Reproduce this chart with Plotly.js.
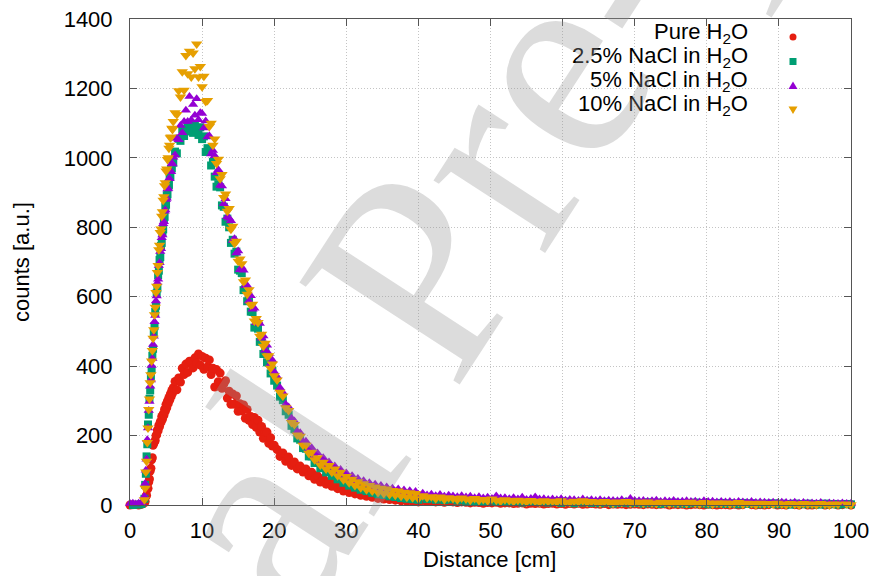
<!DOCTYPE html>
<html><head><meta charset="utf-8">
<script src="https://cdn.plot.ly/plotly-3.0.1.min.js"></script>
<style>html,body{margin:0;padding:0;background:#fff}#chart{width:873px;height:576px}</style>
</head><body><div id="chart"></div>
<script>
// Distance [cm]
const distance = [0,0.4,0.8,1.2,1.6,2.0,
2.1,2.2,2.3,2.4,2.5,2.6,2.7,2.8,2.9,3.0,3.1,3.2,3.3,3.4,3.5,3.6,3.7,3.8,3.9,4.0,
4.1,4.2,4.3,4.4,4.5,4.6,4.7,4.8,4.9,5.0,5.1,5.2,5.3,5.4,5.5,5.6,5.7,5.8,5.9,6.0,
6.25,6.5,6.75,7,7.25,7.5,7.75,8,8.25,8.5,8.75,9,9.25,9.5,9.75,10,
10.25,10.5,10.75,11,11.25,11.5,11.75,12,12.25,12.5,12.75,13,13.25,13.5,13.75,14,14.25,14.5,14.75,15,
15.25,15.5,15.75,16,16.25,16.5,16.75,17,17.25,17.5,17.75,18,18.25,18.5,18.75,19,19.25,19.5,19.75,20,
20.4,20.8,21.2,21.6,22,22.4,22.8,23.2,23.6,24,24.4,24.8,25.2,25.6,26,26.4,26.8,27.2,27.6,28,
28.4,28.8,29.2,29.6,30,30.4,30.8,31.2,31.6,32,32.4,32.8,33.2,33.6,34,34.4,34.8,35.2,35.6,36,
36.4,36.8,37.2,37.6,38,38.4,38.8,39.2,39.6,40,
40.6,41.2,41.8,42.4,43.0,43.6,44.2,44.8,45.4,46.0,46.6,47.2,47.8,48.4,49.0,49.6,50.2,50.8,51.4,52.0,
52.6,53.2,53.8,54.4,55.0,55.6,56.2,56.8,57.4,58.0,58.6,59.2,59.8,60.4,61.0,61.6,62.2,62.8,63.4,64.0,
64.6,65.2,65.8,66.4,67.0,67.6,68.2,68.8,69.4,70.0,70.6,71.2,71.8,72.4,73.0,73.6,74.2,74.8,75.4,76.0,
76.6,77.2,77.8,78.4,79.0,79.6,80.2,80.8,81.4,82.0,82.6,83.2,83.8,84.4,85.0,85.6,86.2,86.8,87.4,88.0,
88.6,89.2,89.8,90.4,91.0,91.6,92.2,92.8,93.4,94.0,94.6,95.2,95.8,96.4,97.0,97.6,98.2,98.8,99.4,100.0];

// counts: Pure H2O
const pureH2O = [0,1,-1,0,2,6,
10,24,28,45,48,66,75,98,106,130,136,172,178,182,186,200,202,216,214,230,
226,240,238,255,247,262,258,276,270,290,280,300,292,310,302,320,312,330,322,338,
356,332,366,354,394,376,406,382,414,411,395,424,408,435,403,428,
391,423,398,418,376,394,340,390,355,380,336,348,358,308,328,290,320,290,314,270,
292,271,288,250,275,244,255,232,252,224,244,210,226,192,210,210,178,194,170,172,
160,140,150,126,138,114,124,104,112,95,104,84,94,74,84,66,76,60,68,54,
62,47,56,40,50,36,45,32,41,28,37,25,33,22,30,19,28,17,26,16,
23,14,22,12,20,11,19,10,18,9,
13,10,12,9,11,8,10,9,7,9,8,6,8,7,5,7,6,8,5,6,
6,4,5,6,3,5,4,5,3,4,5,3,4,2,4,3,5,2,3,4,
3,2,4,1,3,2,3,1,2,3,2,1,3,2,1,2,3,0,2,1,
2,0,1,2,1,0,2,1,0,1,1,0,2,0,1,-1,1,0,1,0,
1,-1,0,1,0,-1,1,0,-1,0,0,1,-1,0,1,-1,0,1,-1,0];

// counts: 2.5% NaCl in H2O
const nacl2_5 = [-2,0,-1,1,3,18,
58,90,140,175,232,260,306,330,372,390,430,450,496,515,556,574,610,624,662,675,
706,714,746,755,786,794,824,830,860,865,892,895,920,922,946,948,968,970,988,986,
1018,1013,1055,1049,1083,1063,1084,1099,1076,1096,1072,1098,1087,1066,1088,1054,
1062,1017,1028,1019,978,988,946,917,924,915,863,859,816,825,800,755,764,724,730,678,
675,668,619,623,587,597,557,556,511,516,508,470,472,435,448,411,411,379,387,358,
344,312,302,270,260,228,218,192,188,164,162,140,140,121,122,106,108,94,97,84,
87,74,77,64,68,56,61,50,55,44,50,40,45,35,41,31,37,29,34,25,
32,23,29,20,27,18,25,17,24,15,
23,17,20,15,19,14,16,18,13,15,12,16,11,14,10,13,15,9,12,11,
8,12,10,7,11,9,12,8,10,7,9,11,6,10,8,5,9,7,10,6,
8,5,9,7,4,8,6,9,5,7,6,4,8,5,7,3,6,5,7,4,
6,3,5,7,4,6,2,5,4,6,3,5,4,2,6,3,5,4,2,4,
3,5,2,4,3,1,4,3,2,4,2,3,1,4,2,3,1,2,3,2];

// counts: 5% NaCl in H2O
const nacl5 = [4,5,3,5,6,25,
62,100,132,188,222,272,298,342,360,402,422,462,486,528,546,588,602,640,650,690,
698,730,738,770,778,810,816,846,850,880,884,910,912,940,940,962,960,984,982,1002,
1008,1056,1052,1093,1072,1105,1137,1105,1177,1109,1154,1123,1170,1110,1130,1128,
1086,1106,1060,1064,1011,1021,1006,957,966,921,919,868,882,830,826,819,762,767,726,732,
678,685,676,632,632,588,603,564,567,525,531,523,480,487,446,460,436,406,417,384,
370,338,324,290,282,250,242,212,208,182,184,160,165,142,150,128,136,116,124,108,
112,96,102,86,92,78,84,70,76,64,70,58,64,52,60,48,56,44,52,40,
48,38,46,35,43,33,41,31,39,30,
34,29,31,27,30,25,28,26,24,27,23,25,21,24,20,22,19,26,20,21,
18,21,17,22,16,19,23,17,18,16,17,15,18,14,16,15,13,17,14,15,
13,15,12,14,13,12,15,11,19,13,12,13,11,12,14,10,12,11,13,10,
11,12,10,11,9,12,10,11,9,10,9,10,8,10,9,8,10,7,9,8,
7,8,6,8,7,6,8,5,7,6,6,5,7,4,6,5,4,6,4,5];

// counts: 10% NaCl in H2O
const nacl10 = [-6,-5,-7,-4,-3,15,
48,95,126,180,222,275,305,352,375,415,445,480,505,548,570,612,630,670,690,735,
748,785,795,832,845,878,888,920,928,962,968,995,1000,1028,1036,1058,1060,1085,1082,1105,
1130,1125,1193,1175,1248,1195,1295,1242,1307,1233,1302,1257,1328,1233,1263,1205,
1235,1162,1165,1090,1100,1036,1054,984,996,940,952,886,896,846,854,794,803,754,760,702,
709,695,643,648,607,620,576,578,530,537,526,486,492,457,466,429,430,394,406,372,
360,325,314,280,272,238,232,202,198,172,172,149,152,130,136,115,123,104,114,94,
104,84,94,73,82,64,74,56,67,50,61,44,56,40,52,36,48,33,46,30,
42,28,40,25,37,22,35,21,33,18,
27,21,24,18,23,16,21,19,15,20,17,14,19,13,16,12,17,14,11,15,
13,10,14,12,9,13,11,8,12,10,11,8,12,9,7,11,9,12,7,10,
9,6,10,8,5,9,7,10,6,8,8,5,9,6,4,8,7,3,7,6,
7,4,8,5,3,7,6,2,6,5,6,3,5,7,2,5,4,1,5,3,
4,2,5,3,1,4,3,0,4,2,3,1,4,2,0,3,2,-1,3,1];

const seriesNames = ['Pure H<sub>2</sub>O','2.5% NaCl in H<sub>2</sub>O','5% NaCl in H<sub>2</sub>O','10% NaCl in H<sub>2</sub>O'];
const seriesValues = [pureH2O, nacl2_5, nacl5, nacl10];
const colors = ['#e51e10','#009e73','#9400d3','#e69f00'];
const symbols = ['circle','square','triangle-up','triangle-down'];
const sizes = [9,8,9,10];
const xTicks = [0,10,20,30,40,50,60,70,80,90,100];
const yTicks = [0,200,400,600,800,1000,1200,1400];

const W=873,H=576,L=130,R=22,T=19,B=71;
const pw=W-L-R, ph=H-T-B;
const px = x => (x-L)/pw;
const py = y => (H-B-y)/ph;

const traces = seriesValues.map((v,i)=>({
  type:'scatter', mode:'markers', x:distance, y:v, name:seriesNames[i],
  cliponaxis:false,
  marker:{color:colors[i], symbol:symbols[i], size:sizes[i], line:{width:0}},
  showlegend:false, hoverinfo:'skip'
}));

const font = {family:'Liberation Sans, Arial, sans-serif', size:22, color:'#000'};
const annotations = [];
const shapes = [];
// legend
shapes.push({type:'rect', xref:'paper', yref:'paper', layer:'between',
  x0:px(560), x1:px(834), y0:py(127), y1:py(20.5), fillcolor:'#fff', line:{width:0}});
const rowY = [33, 57, 81, 105];
seriesNames.forEach((n,i)=>{
  annotations.push({xref:'paper', yref:'paper', x:px(750), y:py(rowY[i]), xanchor:'right', yanchor:'middle',
    text:n, showarrow:false, font:font});
});
const mx = px(793);
shapes.push({type:'circle', xref:'paper', yref:'paper', xsizemode:'pixel', ysizemode:'pixel',
  xanchor:mx, yanchor:py(37), x0:-3.5, x1:3.5, y0:-3.5, y1:3.5, fillcolor:colors[0], line:{width:0}});
shapes.push({type:'rect', xref:'paper', yref:'paper', xsizemode:'pixel', ysizemode:'pixel',
  xanchor:mx, yanchor:py(61.5), x0:-3.5, x1:3.5, y0:-3.5, y1:3.5, fillcolor:colors[1], line:{width:0}});
shapes.push({type:'path', xref:'paper', yref:'paper', xsizemode:'pixel', ysizemode:'pixel',
  xanchor:mx, yanchor:py(85.5), path:'M-4.5,-3.5 L4.5,-3.5 L0,4 Z', fillcolor:colors[2], line:{width:0}});
shapes.push({type:'path', xref:'paper', yref:'paper', xsizemode:'pixel', ysizemode:'pixel',
  xanchor:mx, yanchor:py(110), path:'M-4.5,3.5 L4.5,3.5 L0,-4 Z', fillcolor:colors[3], line:{width:0}});
// axis titles
annotations.push({xref:'paper', yref:'paper', x:px(489), y:py(559), xanchor:'center', yanchor:'middle',
  text:'Distance [cm]', showarrow:false, font:font});
annotations.push({xref:'paper', yref:'paper', x:px(21), y:py(262), xanchor:'center', yanchor:'middle',
  text:'counts [a.u.]', textangle:-90, showarrow:false, font:font});
// watermark
annotations.push({xref:'paper', yref:'paper', x:px(423), y:py(261), xanchor:'center', yanchor:'middle',
  text:'Journal Pre-proof', textangle:-57, showarrow:false,
  font:{family:'Liberation Serif, Times New Roman, serif', size:290, color:'rgba(150,150,150,0.33)'}});

const axisCommon = {showline:true, linecolor:'#555', linewidth:1, mirror:'ticks', ticks:'inside', ticklen:7,
  tickcolor:'#555', showgrid:true, gridcolor:'#c4c4c4', griddash:'1px,2px', gridwidth:1, zeroline:false,
  tickfont:font, automargin:false};

const layout = {
  width:W, height:H, margin:{l:L, r:R, t:T, b:B}, paper_bgcolor:'#fff', plot_bgcolor:'#fff',
  showlegend:false, font:font,
  xaxis:Object.assign({}, axisCommon, {range:[0,100], tickvals:xTicks, ticktext:xTicks.map(String), ticklabelstandoff:6}),
  yaxis:Object.assign({}, axisCommon, {range:[0,1400], tickvals:yTicks, ticktext:yTicks.map(String), ticklabelstandoff:12}),
  annotations:annotations, shapes:shapes
};
Plotly.newPlot('chart', traces, layout, {displayModeBar:false, staticPlot:true});
</script></body></html>
